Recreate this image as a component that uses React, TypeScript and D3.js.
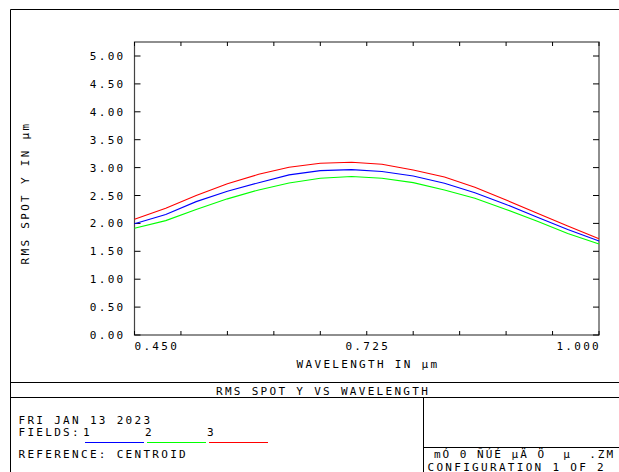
import React from "react";
import * as d3 from "d3";

// Wavelengths (µm) at which RMS spot size was evaluated
const wavelengths = [
  0.45, 0.487, 0.523, 0.56, 0.597, 0.633, 0.67, 0.707, 0.743, 0.78, 0.817,
  0.853, 0.89, 0.927, 0.963, 1.0,
];

// RMS spot Y (µm) per field
const field1 = [
  1.995, 2.16, 2.39, 2.575, 2.73, 2.87, 2.945, 2.963, 2.93, 2.85, 2.72, 2.55,
  2.34, 2.11, 1.89, 1.685,
];
const field2 = [
  1.912, 2.05, 2.25, 2.44, 2.6, 2.725, 2.81, 2.84, 2.81, 2.73, 2.6, 2.45, 2.25,
  2.04, 1.82, 1.63,
];
const field3 = [
  2.073, 2.27, 2.5, 2.71, 2.88, 3.005, 3.077, 3.095, 3.06, 2.957, 2.83, 2.647,
  2.42, 2.18, 1.953, 1.726,
];

const fieldNames = ["1", "2", "3"];
const fieldColors = ["#0000ff", "#00ff00", "#ff0000"];
const seriesList = [field1, field2, field3];

const yTicks = [0, 0.5, 1, 1.5, 2, 2.5, 3, 3.5, 4, 4.5, 5];
const xTickCount = 10;
const xLabels = [0.45, 0.725, 1.0];

const W = 619;
const H = 472;
const plot = { left: 134.5, right: 599, top: 42, bottom: 335 };

const FONT = "'DejaVu Sans Mono', 'Liberation Mono', monospace";
const textStyle: React.CSSProperties = {
  fontFamily: FONT,
  fontSize: 11,
  letterSpacing: 2.3,
};

export default function App() {
  const x = d3.scaleLinear().domain([0.45, 1.0]).range([plot.left, plot.right]);
  const y = d3.scaleLinear().domain([0, 5]).range([plot.bottom, 56]);

  const line = d3
    .line<number>()
    .x((_, i) => x(wavelengths[i]))
    .y((d) => y(d));

  const xTickVals = d3.range(xTickCount + 1).map((i) => 0.45 + (i * 0.55) / xTickCount);
  const fmt = d3.format(".3f");
  const fmtY = d3.format(".2f");

  const ink = "#000";

  return (
    <svg
      width={W}
      height={H}
      style={{ position: "absolute", left: 0, top: 0, background: "#fff" }}
    >
      <rect x={0} y={0} width={W} height={H} fill="#fff" />

      {/* outer page frame */}
      <line x1={10.5} y1={9.5} x2={W} y2={9.5} stroke={ink} />
      <line x1={10.5} y1={9.5} x2={10.5} y2={H} stroke={ink} />

      {/* plot frame */}
      <rect
        x={plot.left}
        y={plot.top}
        width={plot.right - plot.left}
        height={plot.bottom - plot.top}
        fill="none"
        stroke="#444"
        strokeWidth={1.2}
      />

      {/* y ticks, both sides, inward */}
      {yTicks.map((t) => (
        <g key={"y" + t}>
          <line x1={plot.left} x2={plot.left + 6} y1={y(t)} y2={y(t)} stroke={ink} />
          <line x1={plot.right - 6} x2={plot.right} y1={y(t)} y2={y(t)} stroke={ink} />
          <text x={125.5} y={y(t) + 4} textAnchor="end" style={textStyle}>
            {fmtY(t)}
          </text>
        </g>
      ))}

      {/* x ticks, top and bottom, inward */}
      {xTickVals.map((t, i) => (
        <g key={"x" + i}>
          <line x1={x(t)} x2={x(t)} y1={plot.bottom} y2={plot.bottom - 4} stroke={ink} />
          <line x1={x(t)} x2={x(t)} y1={plot.top} y2={plot.top + 4} stroke={ink} />
        </g>
      ))}

      {xLabels.map((t, i) => (
        <text
          key={"xl" + i}
          x={i === 0 ? x(t) : i === 1 ? x(t) + 1 : x(t) + 2}
          y={350}
          textAnchor={i === 0 ? "start" : i === 1 ? "middle" : "end"}
          style={textStyle}
        >
          {fmt(t)}
        </text>
      ))}

      <text x={368} y={367.5} textAnchor="middle" style={textStyle}>
        WAVELENGTH IN µm
      </text>
      <text
        transform={`translate(29,193) rotate(-90)`}
        textAnchor="middle"
        style={textStyle}
      >
        RMS SPOT Y IN µm
      </text>

      {/* field curves */}
      {seriesList.map((s, i) => (
        <path
          key={"s" + i}
          d={line(s) || ""}
          fill="none"
          stroke={fieldColors[i]}
          strokeWidth={1.1}
        />
      ))}

      {/* footer boxes */}
      <line x1={10.5} x2={W} y1={382.5} y2={382.5} stroke={ink} />
      <line x1={10.5} x2={W} y1={397.5} y2={397.5} stroke={ink} />
      <line x1={423.5} x2={423.5} y1={397.5} y2={H} stroke={ink} />
      <line x1={423.5} x2={W} y1={447.5} y2={447.5} stroke={ink} />

      <text x={216} y={395} style={textStyle}>
        RMS SPOT Y VS WAVELENGTH
      </text>

      <text x={18.5} y={423.5} style={textStyle}>
        FRI JAN 13 2023
      </text>
      <text x={18.5} y={435.7} style={textStyle}>
        FIELDS:
      </text>
      {fieldNames.map((n, i) => {
        const x0 = [85, 147, 209][i];
        return (
          <g key={"lg" + i}>
            <text x={x0 - 2} y={435.7} style={textStyle}>
              {n}
            </text>
            <line
              x1={x0}
              x2={x0 + 59}
              y1={442.5}
              y2={442.5}
              stroke={fieldColors[i]}
              strokeWidth={1.1}
            />
          </g>
        );
      })}
      <text x={18.5} y={458.3} style={textStyle}>
        REFERENCE: CENTROID
      </text>

      <text x={434} y={458.3} style={{ ...textStyle, letterSpacing: 2 }} xmlSpace="preserve">
        {"mÓ 0 ÑÚÉ µÄ Ö  µ  .ZM"}
      </text>
      <text x={427.5} y={470.5} style={textStyle}>
        CONFIGURATION 1 OF 2
      </text>
    </svg>
  );
}
